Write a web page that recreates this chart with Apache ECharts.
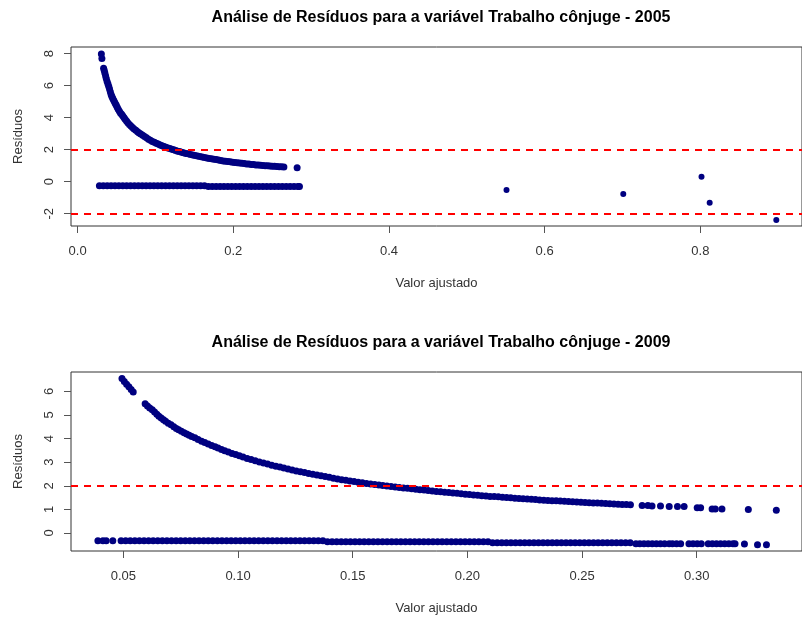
<!DOCTYPE html>
<html><head><meta charset="utf-8">
<script src="https://cdn.jsdelivr.net/npm/echarts@6/dist/echarts.min.js"></script>
<style>html,body{margin:0;padding:0;background:#fff}#c{width:802px;height:620px}</style>
</head><body><div id="c"></div><script>
// ---- texts ----
const titleTop = 'Análise de Resíduos para a variável Trabalho cônjuge - 2005';
const titleBottom = 'Análise de Resíduos para a variável Trabalho cônjuge - 2009';
const xName = 'Valor ajustado';
const yName = 'Resíduos';

// ---- ticks ----
const xTicks2005 = [0, 0.2, 0.4, 0.6, 0.8];
const yTicks2005 = [-2, 0, 2, 4, 6, 8];
const xTicks2009 = [0.05, 0.10, 0.15, 0.20, 0.25, 0.30];
const yTicks2009 = [0, 1, 2, 3, 4, 5, 6];
const refLines2005 = [2, -2];
const refLines2009 = [2];

// ---- 2005 data: [valor ajustado, resíduo] ----
const upper2005 = [
[0.0305,7.98],[0.0312,7.70],
[0.0334,7.09],[0.0342,6.95],[0.0350,6.80],[0.0359,6.62],[0.0368,6.45],[0.0379,6.27],[0.0390,6.10],[0.0400,5.95],
[0.0410,5.80],[0.0420,5.62],[0.0430,5.45],[0.0440,5.33],[0.0450,5.22],[0.0461,5.11],[0.0473,5.00],[0.0484,4.89],
[0.0495,4.79],[0.0507,4.67],[0.0520,4.55],[0.0535,4.42],[0.0550,4.30],[0.0565,4.21],[0.0579,4.12],[0.0595,4.01],
[0.0610,3.90],[0.0628,3.79],[0.0645,3.68],[0.0665,3.58],[0.0685,3.48],[0.0705,3.39],[0.0725,3.30],[0.0748,3.21],
[0.0770,3.12],[0.0790,3.05],[0.0812,2.98],[0.0836,2.90],[0.0860,2.82],[0.0885,2.74],[0.0910,2.66],[0.0935,2.59],
[0.0960,2.52],[0.0985,2.46],[0.1010,2.40],[0.1035,2.35],[0.1060,2.30],[0.1085,2.25],[0.1110,2.20],[0.1135,2.15],
[0.1160,2.11],[0.1185,2.07],[0.1210,2.03],[0.1235,1.99],[0.1260,1.95],[0.1285,1.91],[0.1310,1.88],[0.1335,1.84],
[0.1360,1.81],[0.1390,1.77],[0.1420,1.74],[0.1450,1.70],[0.1480,1.67],[0.1510,1.63],[0.1540,1.60],[0.1570,1.57],
[0.1600,1.54],[0.1630,1.51],[0.1660,1.48],[0.1690,1.45],[0.1720,1.43],[0.1750,1.40],[0.1780,1.38],[0.1810,1.35],
[0.1840,1.33],[0.1870,1.30],[0.1900,1.28],[0.1930,1.26],[0.1960,1.24],[0.1990,1.22],[0.2020,1.20],[0.2050,1.18],
[0.2080,1.17],[0.2110,1.15],[0.2140,1.13],[0.2170,1.11],[0.2200,1.10],[0.2230,1.08],[0.2260,1.07],[0.2290,1.05],
[0.2320,1.04],[0.2350,1.02],[0.2380,1.01],[0.2410,1.00],[0.2440,0.99],[0.2470,0.98],[0.2500,0.97],[0.2530,0.96],
[0.2560,0.95],[0.2590,0.94],[0.2620,0.93],[0.2650,0.92],
[0.2820,0.87]
];
const lower2005 = [
[0.028,-0.25],[0.033,-0.25],[0.038,-0.25],[0.043,-0.25],[0.048,-0.25],[0.053,-0.25],[0.058,-0.25],[0.063,-0.25],
[0.068,-0.25],[0.073,-0.25],[0.078,-0.25],[0.083,-0.25],[0.088,-0.25],[0.093,-0.25],[0.098,-0.25],[0.103,-0.25],
[0.108,-0.25],[0.113,-0.25],[0.118,-0.25],[0.123,-0.25],[0.128,-0.25],[0.133,-0.25],[0.138,-0.25],[0.143,-0.25],
[0.148,-0.25],[0.153,-0.25],[0.158,-0.25],[0.163,-0.25],
[0.168,-0.30],[0.173,-0.30],[0.178,-0.30],[0.183,-0.30],[0.188,-0.30],[0.193,-0.30],[0.198,-0.30],[0.203,-0.30],
[0.208,-0.30],[0.213,-0.30],[0.218,-0.30],[0.223,-0.30],[0.228,-0.30],[0.233,-0.30],[0.238,-0.30],[0.243,-0.30],
[0.248,-0.30],[0.253,-0.30],[0.258,-0.30],[0.263,-0.30],[0.268,-0.30],[0.273,-0.30],[0.278,-0.30],[0.283,-0.30],
[0.285,-0.30]
];
const outliers2005 = [[0.551,-0.52],[0.701,-0.77],[0.8015,0.31],[0.812,-1.31],[0.8976,-2.39]];

// ---- 2009 data ----
const upper2009 = [
[0.0494,6.54],[0.0504,6.42],[0.0514,6.30],[0.0524,6.19],[0.0534,6.08],[0.0543,5.97],
[0.0595,5.48],[0.0605,5.38],[0.0615,5.30],[0.0626,5.22],[0.0636,5.12],[0.0646,5.03],[0.0655,4.94],[0.0665,4.87],
[0.0675,4.80],[0.0684,4.73],[0.0696,4.65],[0.0708,4.58],[0.0720,4.50],[0.0731,4.43],[0.0741,4.37],[0.0753,4.31],
[0.0765,4.25],[0.0776,4.19],[0.0787,4.14],[0.0798,4.09],[0.0812,4.03],[0.0826,3.96],[0.0841,3.89],[0.0855,3.83],
[0.0870,3.77],[0.0885,3.71],[0.0900,3.65],[0.0913,3.60],[0.0928,3.54],[0.0942,3.48],[0.0958,3.43],[0.0974,3.37],
[0.0990,3.32],[0.1006,3.27],[0.1022,3.22],[0.1040,3.16],[0.1057,3.11],[0.1075,3.06],[0.1093,3.01],[0.1111,2.96],
[0.1129,2.92],[0.1147,2.87],[0.1165,2.83],[0.1183,2.79],[0.1200,2.75],[0.1218,2.71],[0.1236,2.67],[0.1254,2.63],
[0.1272,2.59],[0.1290,2.56],[0.1308,2.52],[0.1326,2.49],[0.1344,2.46],[0.1362,2.42],[0.1380,2.39],[0.1398,2.36],
[0.1416,2.32],[0.1434,2.29],[0.1452,2.26],[0.1470,2.23],[0.1488,2.20],[0.1506,2.18],[0.1524,2.15],[0.1542,2.13],
[0.1560,2.10],[0.1578,2.08],[0.1596,2.05],[0.1614,2.03],[0.1631,2.01],[0.1649,1.99],[0.1667,1.97],[0.1685,1.95],
[0.1703,1.93],[0.1721,1.91],[0.1739,1.89],[0.1757,1.87],[0.1775,1.85],[0.1793,1.83],[0.1811,1.82],[0.1829,1.80],
[0.1847,1.78],[0.1865,1.76],[0.1883,1.75],[0.1901,1.73],[0.1919,1.71],[0.1937,1.69],[0.1955,1.68],[0.1973,1.66],
[0.1991,1.64],[0.2009,1.63],[0.2027,1.61],[0.2045,1.60],[0.2063,1.58],[0.2081,1.57],[0.2099,1.55],[0.2117,1.54],
[0.2135,1.53],[0.2153,1.51],[0.2171,1.50],[0.2189,1.49],[0.2207,1.47],[0.2225,1.46],[0.2243,1.45],[0.2261,1.44],
[0.2279,1.43],[0.2297,1.42],[0.2315,1.40],[0.2333,1.39],[0.2351,1.38],[0.2369,1.37],[0.2387,1.36],[0.2405,1.35],
[0.2423,1.34],[0.2441,1.33],[0.2459,1.32],[0.2477,1.31],[0.2495,1.30],[0.2513,1.29],[0.2531,1.28],[0.2549,1.27],
[0.2567,1.27],[0.2585,1.26],[0.2603,1.25],[0.2621,1.24],[0.2639,1.23],[0.2657,1.22],[0.2675,1.21],[0.2693,1.21],
[0.2711,1.20],
[0.2762,1.16],[0.2787,1.16],[0.2805,1.14],[0.2842,1.14],[0.2880,1.12],[0.2916,1.12],[0.2945,1.12],[0.3002,1.07],
[0.3017,1.07],[0.3067,1.02],[0.3081,1.02],[0.3110,1.02],[0.3225,0.99],[0.3347,0.96]
];
const lower2009 = [
[0.0389,-0.33],[0.0411,-0.33],[0.0425,-0.33],[0.0454,-0.33],
[0.049,-0.33],[0.051,-0.33],[0.053,-0.33],[0.055,-0.33],[0.057,-0.33],[0.059,-0.33],[0.061,-0.33],[0.063,-0.33],
[0.065,-0.33],[0.067,-0.33],[0.069,-0.33],[0.071,-0.33],[0.073,-0.33],[0.075,-0.33],[0.077,-0.33],[0.079,-0.33],
[0.081,-0.33],[0.083,-0.33],[0.085,-0.33],[0.087,-0.33],[0.089,-0.33],[0.091,-0.33],[0.093,-0.33],[0.095,-0.33],
[0.097,-0.33],[0.099,-0.33],[0.101,-0.33],[0.103,-0.33],[0.105,-0.33],[0.107,-0.33],[0.109,-0.33],[0.111,-0.33],
[0.113,-0.33],[0.115,-0.33],[0.117,-0.33],[0.119,-0.33],[0.121,-0.33],[0.123,-0.33],[0.125,-0.33],[0.127,-0.33],
[0.129,-0.33],[0.131,-0.33],[0.133,-0.33],[0.135,-0.33],[0.137,-0.33],
[0.139,-0.37],[0.141,-0.37],[0.143,-0.37],[0.145,-0.37],[0.147,-0.37],[0.149,-0.37],[0.151,-0.37],[0.153,-0.37],
[0.155,-0.37],[0.157,-0.37],[0.159,-0.37],[0.161,-0.37],[0.163,-0.37],[0.165,-0.37],[0.167,-0.37],[0.169,-0.37],
[0.171,-0.37],[0.173,-0.37],[0.175,-0.37],[0.177,-0.37],[0.179,-0.37],[0.181,-0.37],[0.183,-0.37],[0.185,-0.37],
[0.187,-0.37],[0.189,-0.37],[0.191,-0.37],[0.193,-0.37],[0.195,-0.37],[0.197,-0.37],[0.199,-0.37],[0.201,-0.37],
[0.203,-0.37],[0.205,-0.37],[0.207,-0.37],[0.209,-0.37],
[0.211,-0.41],[0.213,-0.41],[0.215,-0.41],[0.217,-0.41],[0.219,-0.41],[0.221,-0.41],[0.223,-0.41],[0.225,-0.41],
[0.227,-0.41],[0.229,-0.41],[0.231,-0.41],[0.233,-0.41],[0.235,-0.41],[0.237,-0.41],[0.239,-0.41],[0.241,-0.41],
[0.243,-0.41],[0.245,-0.41],[0.247,-0.41],[0.249,-0.41],[0.251,-0.41],[0.253,-0.41],[0.255,-0.41],[0.257,-0.41],
[0.259,-0.41],[0.261,-0.41],[0.263,-0.41],[0.265,-0.41],[0.267,-0.41],[0.269,-0.41],[0.271,-0.41],
[0.2735,-0.46],[0.2752,-0.46],[0.2770,-0.46],[0.2788,-0.46],[0.2806,-0.46],[0.2824,-0.46],[0.2842,-0.46],[0.2860,-0.46],
[0.2880,-0.46],[0.2894,-0.46],[0.2912,-0.46],[0.2930,-0.46],[0.2966,-0.46],[0.2984,-0.46],[0.3002,-0.46],[0.3020,-0.46],
[0.3050,-0.46],[0.3068,-0.46],[0.3086,-0.46],[0.3104,-0.46],[0.3122,-0.46],[0.3140,-0.46],[0.3158,-0.46],[0.3167,-0.46],
[0.3208,-0.47],[0.3265,-0.50],[0.3304,-0.50]
];

// ---- build chart ----
const FONT = '"Liberation Sans", Arial, sans-serif';
const NAVY = '#000080';
const chart = echarts.init(document.getElementById('c'), null, {renderer: 'canvas'});

function xAx(gi, min, max, ticks, dec) {
  return {
    type: 'value', gridIndex: gi, min: min, max: max, position: 'bottom',
    splitLine: {show: false}, axisLine: {show: false, onZero: false},
    axisTick: {show: true, length: 7, customValues: ticks, lineStyle: {color: '#555', width: 1}},
    axisLabel: {customValues: ticks, formatter: v => v.toFixed(dec), fontSize: 13, color: '#333', margin: 19, fontFamily: FONT},
    name: xName, nameLocation: 'middle', nameGap: 51,
    nameTextStyle: {fontSize: 13, color: '#333', fontFamily: FONT}
  };
}
function yAx(gi, min, max, ticks) {
  return {
    type: 'value', gridIndex: gi, min: min, max: max, position: 'left',
    splitLine: {show: false}, axisLine: {show: false, onZero: false},
    axisTick: {show: true, length: 7, customValues: ticks, lineStyle: {color: '#555', width: 1}},
    axisLabel: {customValues: ticks, formatter: v => String(v), rotate: 90, fontSize: 13, color: '#333', margin: 15, fontFamily: FONT},
    name: yName, nameLocation: 'middle', nameGap: 46, nameRotate: 90,
    nameTextStyle: {fontSize: 13, color: '#333', fontFamily: FONT}
  };
}
function sc(gi, data, size, lines) {
  const s = {
    type: 'scatter', xAxisIndex: gi, yAxisIndex: gi, data: data,
    symbol: 'circle', symbolSize: size, itemStyle: {color: NAVY, opacity: 1},
    silent: true, clip: true
  };
  if (lines) {
    s.markLine = {
      silent: true, symbol: ['none', 'none'], label: {show: false},
      lineStyle: {color: '#FF0000', type: [7, 6], width: 2, opacity: 1},
      data: lines.map(v => ({yAxis: v})), animation: false
    };
  }
  return s;
}

chart.setOption({
  animation: false,
  backgroundColor: '#fff',
  title: [
    {text: titleTop, left: 441, top: 10, textAlign: 'center', padding: 0,
     textStyle: {fontSize: 16, fontWeight: 'bold', color: '#000', fontFamily: FONT}},
    {text: titleBottom, left: 441, top: 335, textAlign: 'center', padding: 0,
     textStyle: {fontSize: 16, fontWeight: 'bold', color: '#000', fontFamily: FONT}}
  ],
  grid: [
    {left: 71, top: 47, width: 740, height: 179, show: true, borderColor: '#333', borderWidth: 1, backgroundColor: 'transparent'},
    {left: 71, top: 372, width: 740, height: 179, show: true, borderColor: '#333', borderWidth: 1, backgroundColor: 'transparent'}
  ],
  xAxis: [xAx(0, -0.0085, 0.9306, xTicks2005, 1), xAx(1, 0.02717, 0.3459, xTicks2009, 2)],
  yAxis: [yAx(0, -2.77, 8.42, yTicks2005), yAx(1, -0.764, 6.82, yTicks2009)],
  series: [
    sc(0, lower2005, 7, null),
    sc(0, upper2005, 7, null),
    sc(0, outliers2005, 6, refLines2005),
    sc(1, lower2009, 7, null),
    sc(1, upper2009, 7, refLines2009)
  ]
});
</script></body></html>
